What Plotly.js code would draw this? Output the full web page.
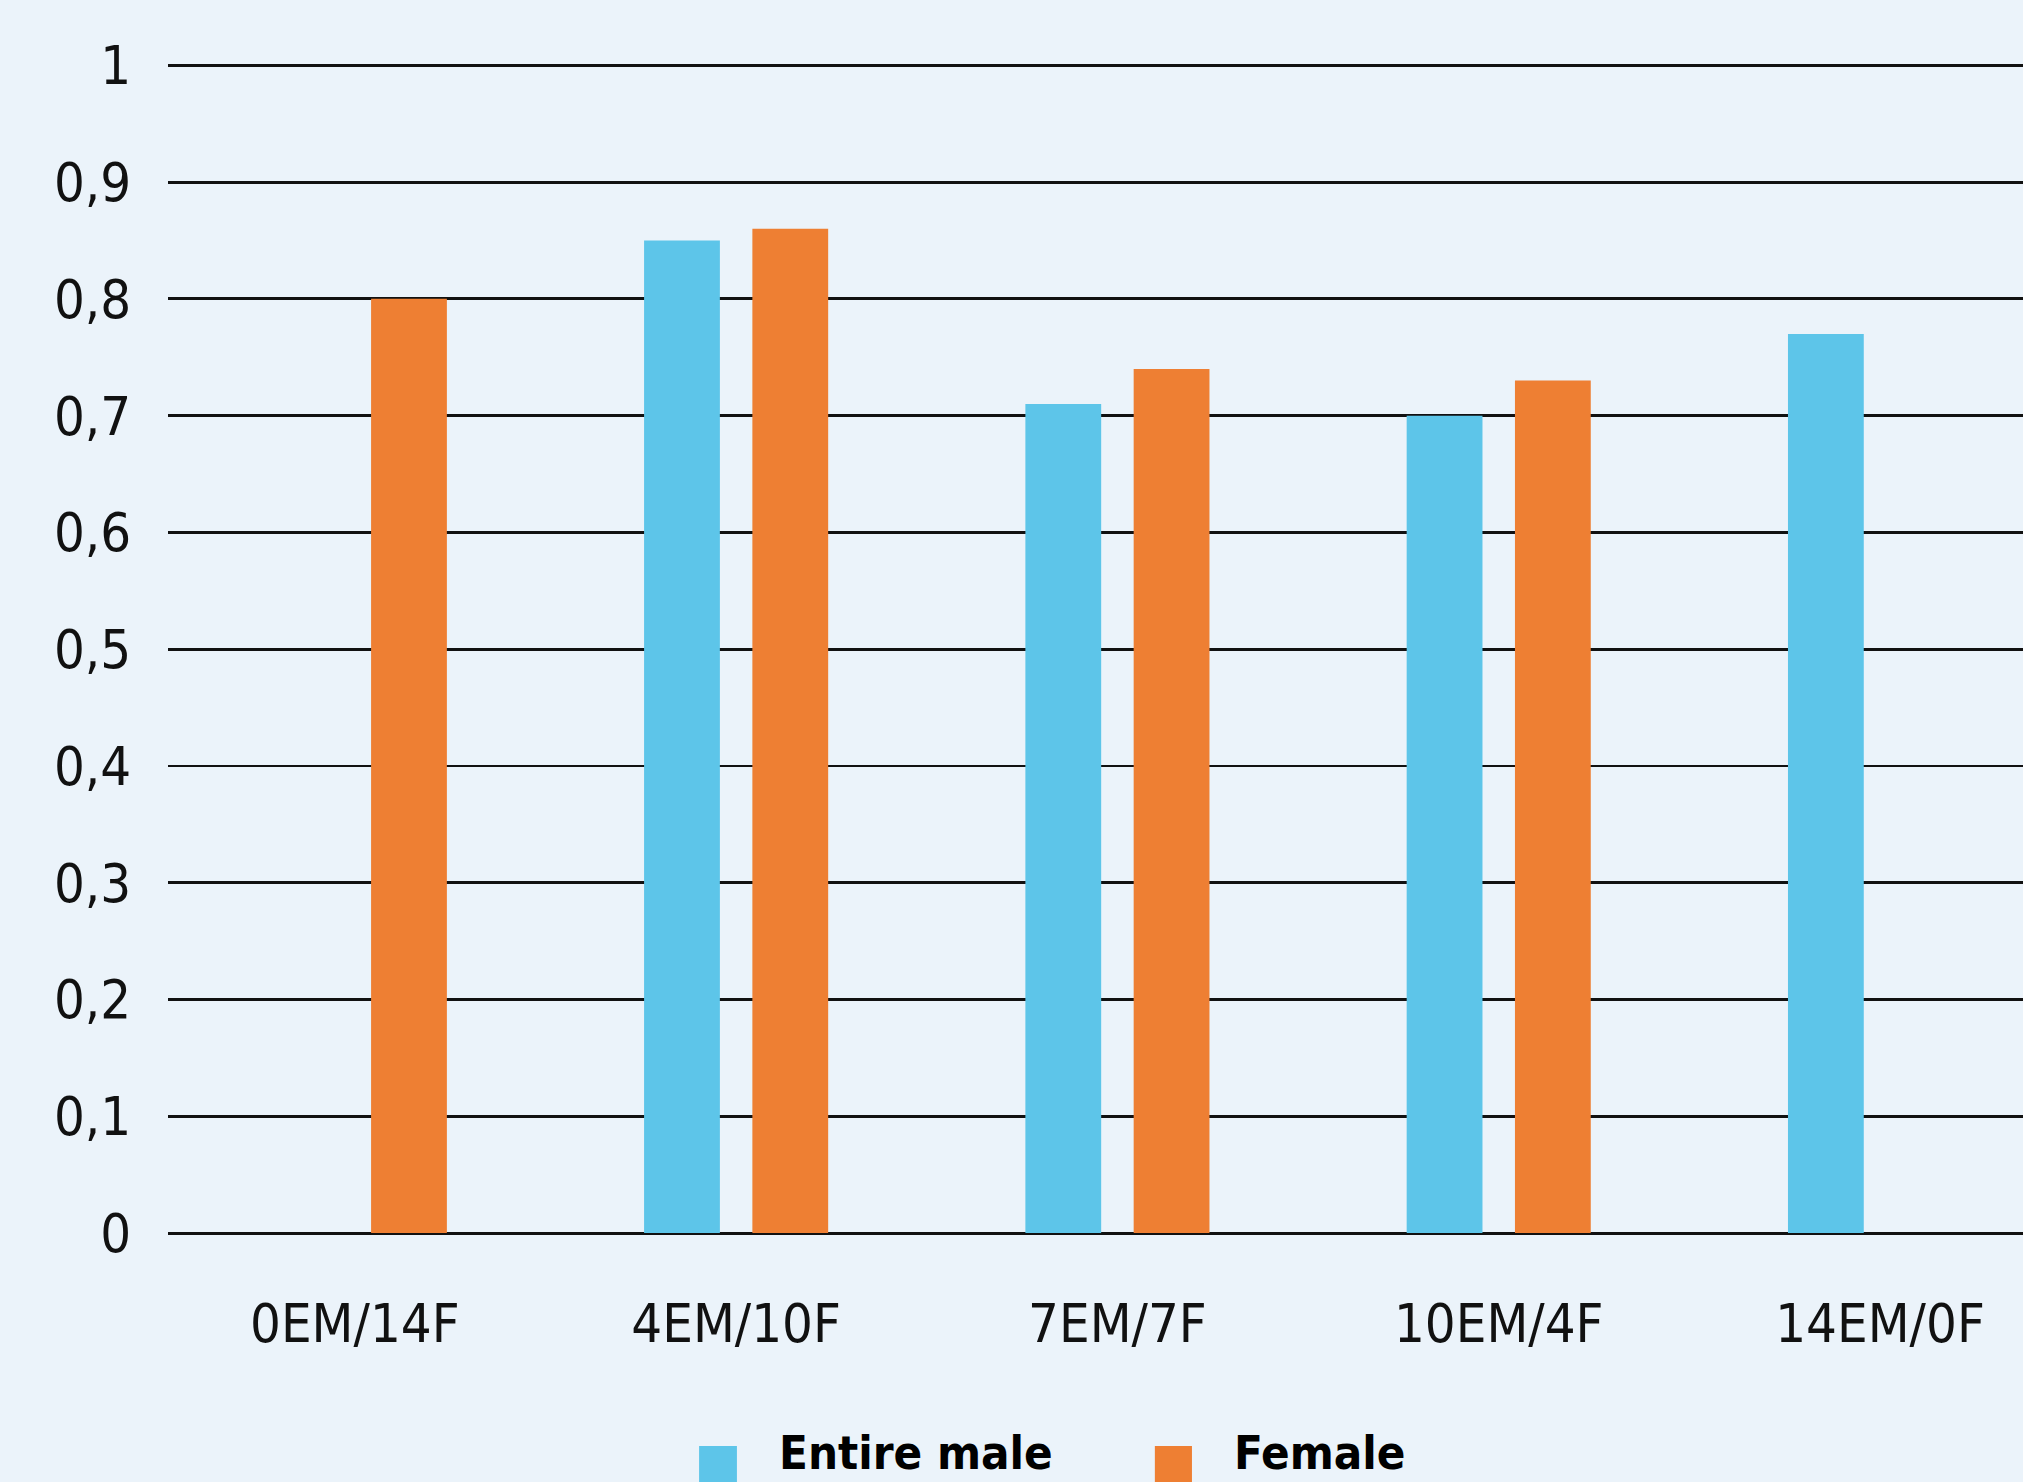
<!DOCTYPE html>
<html><head><meta charset="utf-8">
<script src="https://cdn.plot.ly/plotly-3.0.1.min.js"></script>
<style>html,body{margin:0;padding:0;background:#EBF3FA;overflow:hidden;}</style>
</head><body><div id="chart" style="width:2023px;height:1482px;"></div>
<script>
const categories = ["0EM/14F", "4EM/10F", "7EM/7F", "10EM/4F", "14EM/0F"];
const entireMale = [null, 0.85, 0.71, 0.70, 0.77];
const female = [0.80, 0.86, 0.74, 0.73, null];
const seriesNames = ["Entire male", "Female"];
const yTickVals = [0, 0.1, 0.2, 0.3, 0.4, 0.5, 0.6, 0.7, 0.8, 0.9, 1];
const yTickText = ["0", "0,1", "0,2", "0,3", "0,4", "0,5", "0,6", "0,7", "0,8", "0,9", "1"];

const BLUE = "#5DC5E9", ORANGE = "#EE7F33", BG = "#EBF3FA";
const FONT = "'DejaVu Sans Condensed', 'Liberation Sans Narrow', 'DejaVu Sans', sans-serif";

const traces = [
  {type: "bar", name: seriesNames[0], x: categories, y: entireMale, marker: {color: BLUE}, showlegend: false, hoverinfo: "skip"},
  {type: "bar", name: seriesNames[1], x: categories, y: female, marker: {color: ORANGE}, showlegend: false, hoverinfo: "skip"}
];

const layout = {
  width: 2023, height: 1482,
  margin: {l: 168, r: 0, t: 63, b: 249, pad: 0},
  paper_bgcolor: BG, plot_bgcolor: BG,
  barmode: "group", bargap: 0.432, bargroupgap: 0.30,
  showlegend: false,
  font: {family: FONT, color: "#111", size: 54},
  xaxis: {
    type: "category", range: [-0.49, 4.375], fixedrange: true,
    showgrid: false, zeroline: false, showline: false,
    ticks: "outside", ticklen: 43, tickcolor: "rgba(0,0,0,0)",
    tickfont: {family: FONT, size: 54, color: "#111"}
  },
  yaxis: {
    range: [0, 1.002], fixedrange: true,
    tickmode: "array", tickvals: yTickVals, ticktext: yTickText,
    showgrid: true, gridcolor: "#111", gridwidth: 2.8,
    zeroline: true, zerolinecolor: "#111", zerolinewidth: 3,
    showline: false,
    ticks: "outside", ticklen: 25, tickcolor: "rgba(0,0,0,0)",
    tickfont: {family: FONT, size: 54, color: "#111"}
  },
  shapes: [
    {type: "rect", xref: "paper", yref: "paper", x0: 0.2863, x1: 0.3067, y0: -0.216, y1: -0.182, fillcolor: BLUE, line: {width: 0}},
    {type: "rect", xref: "paper", yref: "paper", x0: 0.532, x1: 0.552, y0: -0.216, y1: -0.182, fillcolor: ORANGE, line: {width: 0}}
  ],
  annotations: [
    {xref: "paper", yref: "paper", x: 0.3283, y: -0.2128, xanchor: "left", yanchor: "bottom", text: "<b>" + seriesNames[0] + "</b>", showarrow: false, font: {family: FONT, size: 47, color: "#000"}},
    {xref: "paper", yref: "paper", x: 0.5736, y: -0.2128, xanchor: "left", yanchor: "bottom", text: "<b>" + seriesNames[1] + "</b>", showarrow: false, font: {family: FONT, size: 47, color: "#000"}}
  ]
};

Plotly.newPlot("chart", traces, layout, {displayModeBar: false, staticPlot: true});
</script></body></html>
